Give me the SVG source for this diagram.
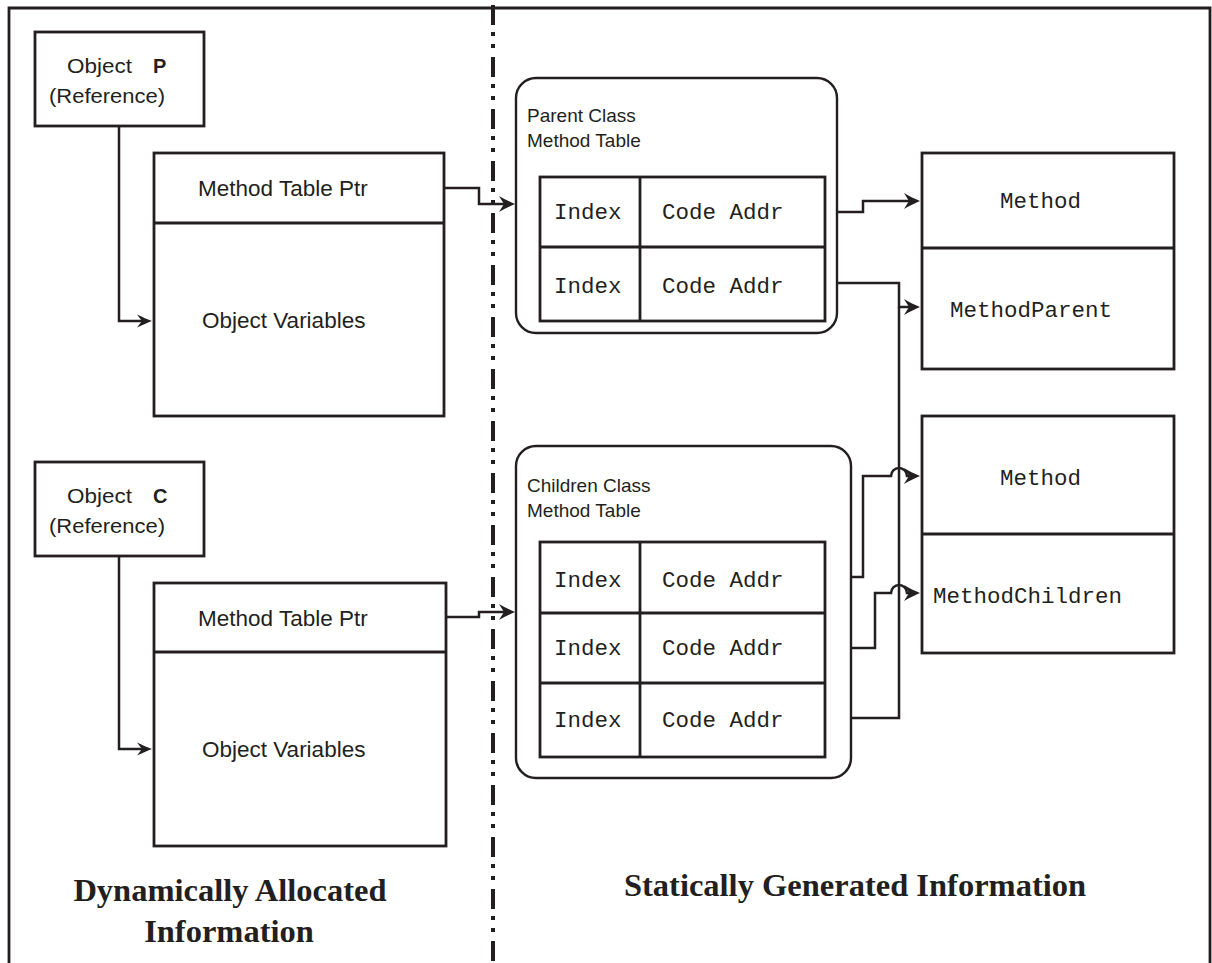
<svg xmlns="http://www.w3.org/2000/svg" width="1212" height="963" viewBox="0 0 1212 963">
  <style>
    .box { fill: none; stroke: #231f20; stroke-width: 2.8; }
    .thin { fill: none; stroke: #231f20; stroke-width: 2.4; }
    .conn { fill: none; stroke: #231f20; stroke-width: 2.5; stroke-linejoin: miter; }
    .sans { font-family: "Liberation Sans", Arial, sans-serif; fill: #231f20; }
    .mono { font-family: "Liberation Mono", "Courier New", monospace; font-size: 22.5px; fill: #231f20; }
    .title { font-family: "Liberation Serif", "Times New Roman", serif; font-weight: bold; font-size: 32.5px; fill: #231f20; }
  </style>
  <defs>
    <!-- swept-back arrowhead; the path ends 4px short of the tip -->
    <marker id="arrow" markerUnits="userSpaceOnUse" viewBox="-15 -9 20 18" markerWidth="20" markerHeight="18" refX="0" refY="0" orient="auto" overflow="visible">
      <path d="M4,0 C-1,-2 -7,-5 -12,-8 L-7,0 L-12,8 C-7,5 -1,2 4,0 Z" fill="#231f20"/>
    </marker>
    <marker id="arrow-sm" markerUnits="userSpaceOnUse" viewBox="-15 -9 20 18" markerWidth="20" markerHeight="18" refX="0" refY="0" orient="auto" overflow="visible">
      <path d="M4,0 C0,-1.5 -6,-4 -11,-6.5 L-6,0 L-11,6.5 C-6,4 0,1.5 4,0 Z" fill="#231f20"/>
    </marker>
  </defs>

  <rect x="0" y="0" width="1212" height="963" fill="#ffffff"/>

  <!-- outer frame (open at the bottom) -->
  <path class="box" d="M9,963 V8 H1210 V963"/>

  <!-- dash-dot separator between dynamic and static halves -->
  <line id="separator" x1="493" y1="5" x2="493" y2="963" stroke="#231f20" stroke-width="4" stroke-dasharray="20 7 4 8 4 9"/>

  <!-- Object P reference -->
  <g id="obj-p-ref">
    <rect class="box" x="35" y="32" width="169" height="94"/>
    <text class="sans" font-size="20" x="67" y="72.5" textLength="65" lengthAdjust="spacingAndGlyphs">Object</text>
    <text class="sans" font-size="20" font-weight="bold" x="153" y="72.5">P</text>
    <text class="sans" font-size="20" x="49" y="102.5" textLength="116" lengthAdjust="spacingAndGlyphs">(Reference)</text>
  </g>

  <!-- Object P instance -->
  <g id="obj-p">
    <rect class="box" x="154" y="153" width="290" height="263"/>
    <line class="box" x1="154" y1="223" x2="444" y2="223"/>
    <text class="sans" font-size="22.5" x="198" y="196">Method Table Ptr</text>
    <text class="sans" font-size="22.5" x="202" y="328">Object Variables</text>
  </g>

  <!-- Object C reference -->
  <g id="obj-c-ref">
    <rect class="box" x="35" y="462" width="169" height="94"/>
    <text class="sans" font-size="20" x="67" y="502.5" textLength="65" lengthAdjust="spacingAndGlyphs">Object</text>
    <text class="sans" font-size="20" font-weight="bold" x="153" y="502.5">C</text>
    <text class="sans" font-size="20" x="49" y="532.5" textLength="116" lengthAdjust="spacingAndGlyphs">(Reference)</text>
  </g>

  <!-- Object C instance -->
  <g id="obj-c">
    <rect class="box" x="154" y="583" width="292" height="263"/>
    <line class="box" x1="154" y1="652" x2="446" y2="652"/>
    <text class="sans" font-size="22.5" x="198" y="626">Method Table Ptr</text>
    <text class="sans" font-size="22.5" x="202" y="757">Object Variables</text>
  </g>

  <!-- Parent class method table -->
  <g id="parent-mt">
    <rect class="thin" x="516" y="78" width="321" height="255" rx="20" ry="20"/>
    <text class="sans" font-size="19" x="527" y="122">Parent Class</text>
    <text class="sans" font-size="19" x="527" y="147">Method Table</text>
    <rect class="box" x="540" y="177" width="285" height="144"/>
    <line class="box" x1="540" y1="247" x2="825" y2="247"/>
    <line class="box" x1="640" y1="177" x2="640" y2="321"/>
    <text class="mono" x="554" y="219">Index</text>
    <text class="mono" x="662" y="219">Code Addr</text>
    <text class="mono" x="554" y="293">Index</text>
    <text class="mono" x="662" y="293">Code Addr</text>
  </g>

  <!-- Children class method table -->
  <g id="children-mt">
    <rect class="thin" x="516" y="446" width="335" height="332" rx="20" ry="20"/>
    <text class="sans" font-size="19" x="527" y="492">Children Class</text>
    <text class="sans" font-size="19" x="527" y="517">Method Table</text>
    <rect class="box" x="540" y="542" width="285" height="215"/>
    <line class="box" x1="540" y1="613" x2="825" y2="613"/>
    <line class="box" x1="540" y1="683" x2="825" y2="683"/>
    <line class="box" x1="640" y1="542" x2="640" y2="757"/>
    <text class="mono" x="554" y="587">Index</text>
    <text class="mono" x="662" y="587">Code Addr</text>
    <text class="mono" x="554" y="655">Index</text>
    <text class="mono" x="662" y="655">Code Addr</text>
    <text class="mono" x="554" y="727">Index</text>
    <text class="mono" x="662" y="727">Code Addr</text>
  </g>

  <!-- Parent methods -->
  <g id="method-parent">
    <rect class="box" x="922" y="153" width="252" height="216"/>
    <line class="box" x1="922" y1="248" x2="1174" y2="248"/>
    <text class="mono" x="1000" y="208">Method</text>
    <text class="mono" x="950" y="317">MethodParent</text>
  </g>

  <!-- Children methods -->
  <g id="method-children">
    <rect class="box" x="922" y="416" width="252" height="237"/>
    <line class="box" x1="922" y1="534" x2="1174" y2="534"/>
    <text class="mono" x="1000" y="485">Method</text>
    <text class="mono" x="933" y="603">MethodChildren</text>
  </g>

  <!-- connectors -->
  <g id="connectors">
    <path class="conn" d="M119,126 V321 H148" marker-end="url(#arrow-sm)"/>
    <path class="conn" d="M119,556 V749 H148" marker-end="url(#arrow-sm)"/>
    <path class="conn" d="M444,188 H479 V204 H511" marker-end="url(#arrow)"/>
    <path class="conn" d="M446,617 H479 V612 H511" marker-end="url(#arrow)"/>
    <path class="conn" d="M837,212 H863 V201 H916" marker-end="url(#arrow)"/>
    <path class="conn" d="M837,283 H899 V307 H916" marker-end="url(#arrow)"/>
    <path class="conn" d="M851,718 H899 V307"/>
    <path class="conn" d="M851,577 H863 V476 H891 A8,8 0 0 1 907,476 H916" marker-end="url(#arrow)"/>
    <path class="conn" d="M851,648 H875 V593 H891 A8,8 0 0 1 907,593 H916" marker-end="url(#arrow)"/>
  </g>

  <!-- section captions -->
  <g id="captions">
    <text class="title" x="230" y="901" text-anchor="middle">Dynamically Allocated</text>
    <text class="title" x="229" y="941.5" text-anchor="middle">Information</text>
    <text class="title" x="855" y="896" text-anchor="middle">Statically Generated Information</text>
  </g>
</svg>
